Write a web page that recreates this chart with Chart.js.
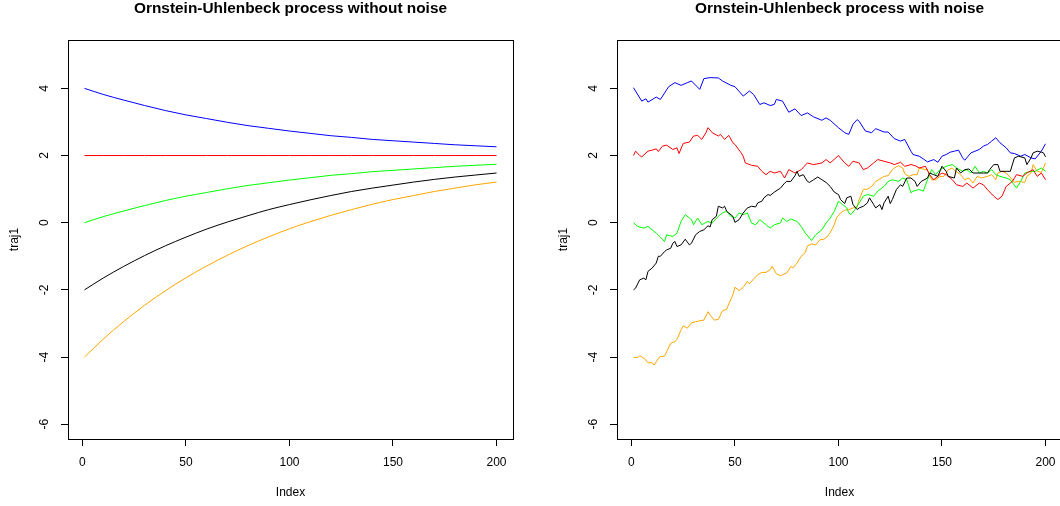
<!DOCTYPE html>
<html>
<head>
<meta charset="utf-8">
<script src="https://cdn.jsdelivr.net/npm/chart.js@4.4.1/dist/chart.umd.min.js"></script>
<style>
  html, body { margin: 0; padding: 0; background: #fff; overflow: hidden; }
  body { width: 1060px; height: 506px; position: relative; }
  canvas { position: absolute; top: 0; }
  #left { left: 0; }
  #right { left: 549px; }
</style>
</head>
<body>
<canvas id="left" width="530" height="506"></canvas>
<canvas id="right" width="530" height="506"></canvas>
<script>
const FONT = '"Liberation Sans", Arial, Helvetica, sans-serif';

// axis ticks (R style: pretty values only)
const xTicks = [0, 50, 100, 150, 200];
const yTicks = [-6, -4, -2, 0, 2, 4];

// deterministic trajectories, sampled every 10 steps
const smoothIdx = [1, 10, 20, 30, 40, 50, 60, 70, 80, 90, 100, 110, 120, 130, 140, 150, 160, 170, 180, 190, 200];
const smoothBlue   = [4, 3.82, 3.65, 3.49, 3.34, 3.21, 3.10, 2.99, 2.89, 2.81, 2.73, 2.66, 2.59, 2.54, 2.48, 2.44, 2.40, 2.36, 2.32, 2.29, 2.26];
const smoothRed    = [2, 2, 2, 2, 2, 2, 2, 2, 2, 2, 2, 2, 2, 2, 2, 2, 2, 2, 2, 2, 2];
const smoothGreen  = [0, 0.18, 0.35, 0.51, 0.66, 0.79, 0.90, 1.01, 1.11, 1.19, 1.27, 1.34, 1.41, 1.46, 1.52, 1.56, 1.60, 1.64, 1.68, 1.71, 1.74];
const smoothBlack  = [-2, -1.65, -1.30, -0.98, -0.69, -0.43, -0.19, 0.02, 0.21, 0.39, 0.54, 0.68, 0.81, 0.93, 1.03, 1.12, 1.21, 1.29, 1.36, 1.42, 1.48];
const smoothOrange = [-4, -3.47, -2.94, -2.46, -2.03, -1.64, -1.29, -0.97, -0.68, -0.42, -0.18, 0.03, 0.22, 0.39, 0.55, 0.69, 0.81, 0.93, 1.03, 1.13, 1.21];

// noisy trajectories
const blueIdx = [1,5,7,8,12,14,18,21,24,27,29,33,35,38,42,44,48,50,54,57,59,62,64,67,69,70,73,76,79,82,85,88,92,94,96,100,103,105,107,109,110,113,116,118,122,124,127,130,132,135,136,139,141,143,146,148,150,152,154,156,158,160,161,164,168,170,172,174,176,178,181,183,185,188,190,193,195,198,200];
const blueVal = [4.02,3.62,3.69,3.59,3.74,3.67,4.05,4.17,4.09,4.17,4.22,3.97,4.29,4.32,4.31,4.22,4.09,4.05,3.77,3.92,3.82,3.52,3.57,3.49,3.52,3.67,3.62,3.29,3.39,3.19,3.27,3.15,3.05,3.12,3.05,2.83,2.68,2.63,2.93,3.07,3.02,2.73,2.68,2.80,2.70,2.70,2.50,2.43,2.48,2.13,2.03,1.98,1.90,1.81,1.88,1.80,1.98,2.03,2.10,2.13,2.16,1.93,1.86,2.08,2.18,2.28,2.33,2.43,2.53,2.38,2.23,2.08,2.06,1.98,2.03,1.93,1.90,2.13,2.35];

const redIdx = [1,2,4,5,8,10,12,13,15,17,20,22,23,25,28,30,32,34,36,37,39,42,43,45,47,49,50,53,54,55,58,61,63,65,67,69,72,73,74,76,79,82,85,88,92,94,96,100,103,105,107,110,112,114,117,119,122,125,127,130,132,135,137,139,142,144,146,148,150,152,155,157,160,162,165,168,170,172,175,177,179,181,184,186,189,191,194,196,198,200];
const redVal = [2.0,2.13,2.0,1.96,2.13,2.16,2.2,2.12,2.28,2.31,2.18,2.23,2.06,2.36,2.4,2.58,2.6,2.48,2.68,2.83,2.68,2.58,2.63,2.48,2.6,2.38,2.33,2.08,1.98,1.78,1.71,1.68,1.53,1.43,1.53,1.48,1.53,1.43,1.33,1.58,1.48,1.58,1.78,1.73,1.78,1.88,1.78,2.0,1.78,1.68,1.83,1.78,1.58,1.63,1.78,1.88,1.83,1.78,1.73,1.8,1.68,1.73,1.7,1.63,1.68,1.43,1.28,1.38,1.48,1.43,1.28,1.13,1.08,1.18,1.03,1.18,1.13,0.98,0.79,0.69,0.79,1.08,1.23,1.43,1.38,1.48,1.58,1.38,1.48,1.28];

const greenIdx = [1,3,6,8,10,12,14,16,17,20,22,24,26,29,30,32,34,37,39,42,44,46,48,50,52,54,56,58,60,62,64,67,69,72,73,75,77,80,82,84,87,89,92,94,96,98,100,102,104,105,106,108,110,112,114,117,119,122,124,126,129,131,133,135,136,139,141,143,145,147,149,152,155,157,160,162,164,166,168,170,172,174,176,178,181,183,186,188,190,193,195,198,200];
const greenVal = [0.0,-0.11,-0.16,-0.11,-0.21,-0.31,-0.43,-0.56,-0.36,-0.41,-0.31,0.04,0.24,0.09,-0.06,0.14,-0.06,0.04,-0.01,0.19,0.29,0.34,0.19,0.14,0.29,0.24,0.29,-0.01,-0.06,0.09,-0.01,-0.16,-0.06,-0.01,0.14,0.04,0.11,0.04,-0.11,-0.31,-0.53,-0.36,-0.21,-0.01,0.14,0.34,0.64,0.54,0.44,0.29,0.24,0.39,0.59,0.79,0.84,0.79,0.94,1.08,1.23,1.28,1.23,1.33,1.28,0.89,0.94,0.99,0.94,1.28,1.58,1.43,1.58,1.68,1.73,1.63,1.53,1.58,1.48,1.68,1.48,1.53,1.48,1.58,1.43,1.38,1.33,1.28,1.03,1.23,1.48,1.53,1.53,1.63,1.53];

const blackIdx = [1,2,4,6,7,8,10,12,13,14,16,17,19,20,21,22,24,26,28,29,31,33,35,37,38,39,41,42,44,45,46,49,50,52,54,56,58,60,61,63,64,66,67,69,72,74,75,77,79,80,81,83,85,86,88,90,92,94,96,98,100,101,103,104,106,107,109,110,112,114,115,117,118,120,121,122,124,125,126,128,130,131,133,135,137,138,140,143,144,146,148,150,152,153,156,157,159,161,163,165,168,170,172,173,175,177,178,181,183,185,187,190,191,193,194,196,198,199,200];
const blackVal = [-2.0,-1.95,-1.7,-1.65,-1.7,-1.45,-1.35,-1.2,-1.0,-1.0,-0.86,-0.81,-0.76,-0.61,-0.56,-0.71,-0.66,-0.49,-0.66,-0.61,-0.36,-0.26,-0.21,-0.09,-0.13,0.09,0.19,0.49,0.44,0.49,0.34,0.19,0.01,0.09,0.29,0.44,0.49,0.47,0.59,0.64,0.74,0.84,0.81,0.91,1.03,1.18,1.23,1.23,1.40,1.53,1.38,1.43,1.23,1.2,1.28,1.36,1.28,1.20,1.08,0.91,0.84,0.69,0.57,0.74,0.79,0.54,0.39,0.44,0.49,0.59,0.74,0.54,0.44,0.54,0.39,0.59,0.79,0.57,0.69,0.99,1.13,1.08,1.33,1.33,1.23,1.08,1.23,1.33,1.48,1.43,1.38,1.68,1.53,1.38,1.33,1.63,1.48,1.58,1.6,1.48,1.48,1.48,1.48,1.58,1.73,1.73,1.53,1.53,1.53,1.93,1.98,1.93,1.73,1.93,2.08,2.13,2.10,2.08,1.96];

const orangeIdx = [1,3,4,5,7,8,10,11,13,14,16,17,19,21,22,24,25,27,29,31,33,35,37,38,40,42,44,46,47,49,50,52,54,56,57,59,61,63,65,67,68,70,72,73,75,77,78,80,82,84,85,87,89,91,93,95,96,98,99,101,103,105,107,109,110,112,114,116,118,120,122,124,126,127,129,131,132,134,136,138,139,142,143,145,147,149,151,153,155,156,159,161,163,165,167,169,172,174,176,177,179,181,184,185,187,190,191,193,194,196,198,199,200];
const orangeVal = [-4.01,-4.01,-3.97,-3.99,-4.09,-4.17,-4.17,-4.24,-4.04,-3.99,-3.97,-3.84,-3.59,-3.54,-3.47,-3.19,-3.07,-3.14,-2.98,-2.95,-2.92,-2.90,-2.65,-2.75,-2.9,-2.88,-2.62,-2.58,-2.42,-2.15,-1.92,-2.02,-1.92,-1.75,-1.82,-1.68,-1.55,-1.48,-1.48,-1.40,-1.30,-1.52,-1.58,-1.55,-1.50,-1.30,-1.35,-1.20,-1.0,-0.89,-0.69,-0.63,-0.66,-0.51,-0.49,-0.39,-0.29,-0.06,0.14,0.29,0.37,0.39,0.44,0.47,0.69,0.99,1.0,1.08,1.23,1.30,1.38,1.40,1.58,1.63,1.70,1.63,1.46,1.38,1.43,1.43,1.63,1.58,1.58,1.28,1.28,1.38,1.38,1.58,1.63,1.56,1.43,1.28,1.33,1.18,1.38,1.33,1.38,1.43,1.28,1.48,1.53,1.48,1.28,1.20,1.23,1.20,1.38,1.48,1.73,1.53,1.50,1.63,1.78];

const pts = (xs, ys) => xs.map((x, i) => ({ x, y: ys[i] }));

// box, rotated y tick labels and bold main title, as base R draws them
const rFrame = {
  id: 'rFrame',
  afterDraw(chart, args, opts) {
    const { ctx, chartArea: a } = chart;
    const y = chart.scales.y;
    ctx.save();
    ctx.strokeStyle = '#000';
    ctx.lineWidth = 1;
    ctx.strokeRect(Math.round(a.left) + 0.5, Math.round(a.top) + 0.5,
      Math.round(a.right - a.left), Math.round(a.bottom - a.top));

    ctx.fillStyle = '#000';
    ctx.font = '12px ' + FONT;
    ctx.textAlign = 'center';
    ctx.textBaseline = 'middle';
    y.ticks.forEach(t => {
      ctx.save();
      ctx.translate(a.left - 23, y.getPixelForValue(t.value));
      ctx.rotate(-Math.PI / 2);
      ctx.fillText(String(t.value), 0, 0);
      ctx.restore();
    });

    ctx.font = 'bold 15.4px ' + FONT;
    ctx.fillText(opts.text, (a.left + a.right) / 2, 9);
    ctx.restore();
  },
};

function ouChart(el, title, sets, smooth) {
  return new Chart(document.getElementById(el), {
    type: 'line',
    data: {
      datasets: sets.map(s => ({
        data: s.data, borderColor: s.color, borderWidth: 1, pointRadius: 0,
        fill: false, cubicInterpolationMode: smooth ? 'monotone' : 'default', tension: 0,
      })),
    },
    options: {
      responsive: false, animation: false, devicePixelRatio: 1, events: [],
      layout: { padding: { top: 40, right: 17, left: 0, bottom: 0 } },
      plugins: { legend: { display: false }, tooltip: { enabled: false }, rFrame: { text: title } },
      scales: {
        x: {
          type: 'linear', min: -6.96, max: 207.96,
          afterBuildTicks: s => { s.ticks = xTicks.map(v => ({ value: v })); },
          afterFit: s => { s.height = 67; },
          border: { display: false },
          grid: { drawOnChartArea: false, tickLength: 7, color: '#000' },
          ticks: { color: '#000', font: { family: FONT, size: 12 }, padding: 9, maxRotation: 0, autoSkip: false },
          title: { display: true, text: 'Index', color: '#000', font: { family: FONT, size: 12 }, padding: { top: 0, bottom: 6 } },
        },
        y: {
          type: 'linear', min: -6.44, max: 5.44,
          afterBuildTicks: s => { s.ticks = yTicks.map(v => ({ value: v })); },
          afterFit: s => { s.width = 68; },
          border: { display: false },
          grid: { drawOnChartArea: false, tickLength: 7, color: '#000' },
          ticks: { display: false },
          title: { display: true, text: 'traj1', color: '#000', font: { family: FONT, size: 12 }, padding: { top: 7, bottom: 0 } },
        },
      },
    },
    plugins: [rFrame],
  });
}

ouChart('left', 'Ornstein-Uhlenbeck process without noise', [
  { data: pts(smoothIdx, smoothBlack), color: '#000000' },
  { data: pts(smoothIdx, smoothRed), color: '#ff0000' },
  { data: pts(smoothIdx, smoothGreen), color: '#00ff00' },
  { data: pts(smoothIdx, smoothBlue), color: '#0000ff' },
  { data: pts(smoothIdx, smoothOrange), color: '#ffa500' },
], true);

ouChart('right', 'Ornstein-Uhlenbeck process with noise', [
  { data: pts(blackIdx, blackVal), color: '#000000' },
  { data: pts(redIdx, redVal), color: '#ff0000' },
  { data: pts(greenIdx, greenVal), color: '#00ff00' },
  { data: pts(blueIdx, blueVal), color: '#0000ff' },
  { data: pts(orangeIdx, orangeVal), color: '#ffa500' },
], false);
</script>
</body>
</html>
